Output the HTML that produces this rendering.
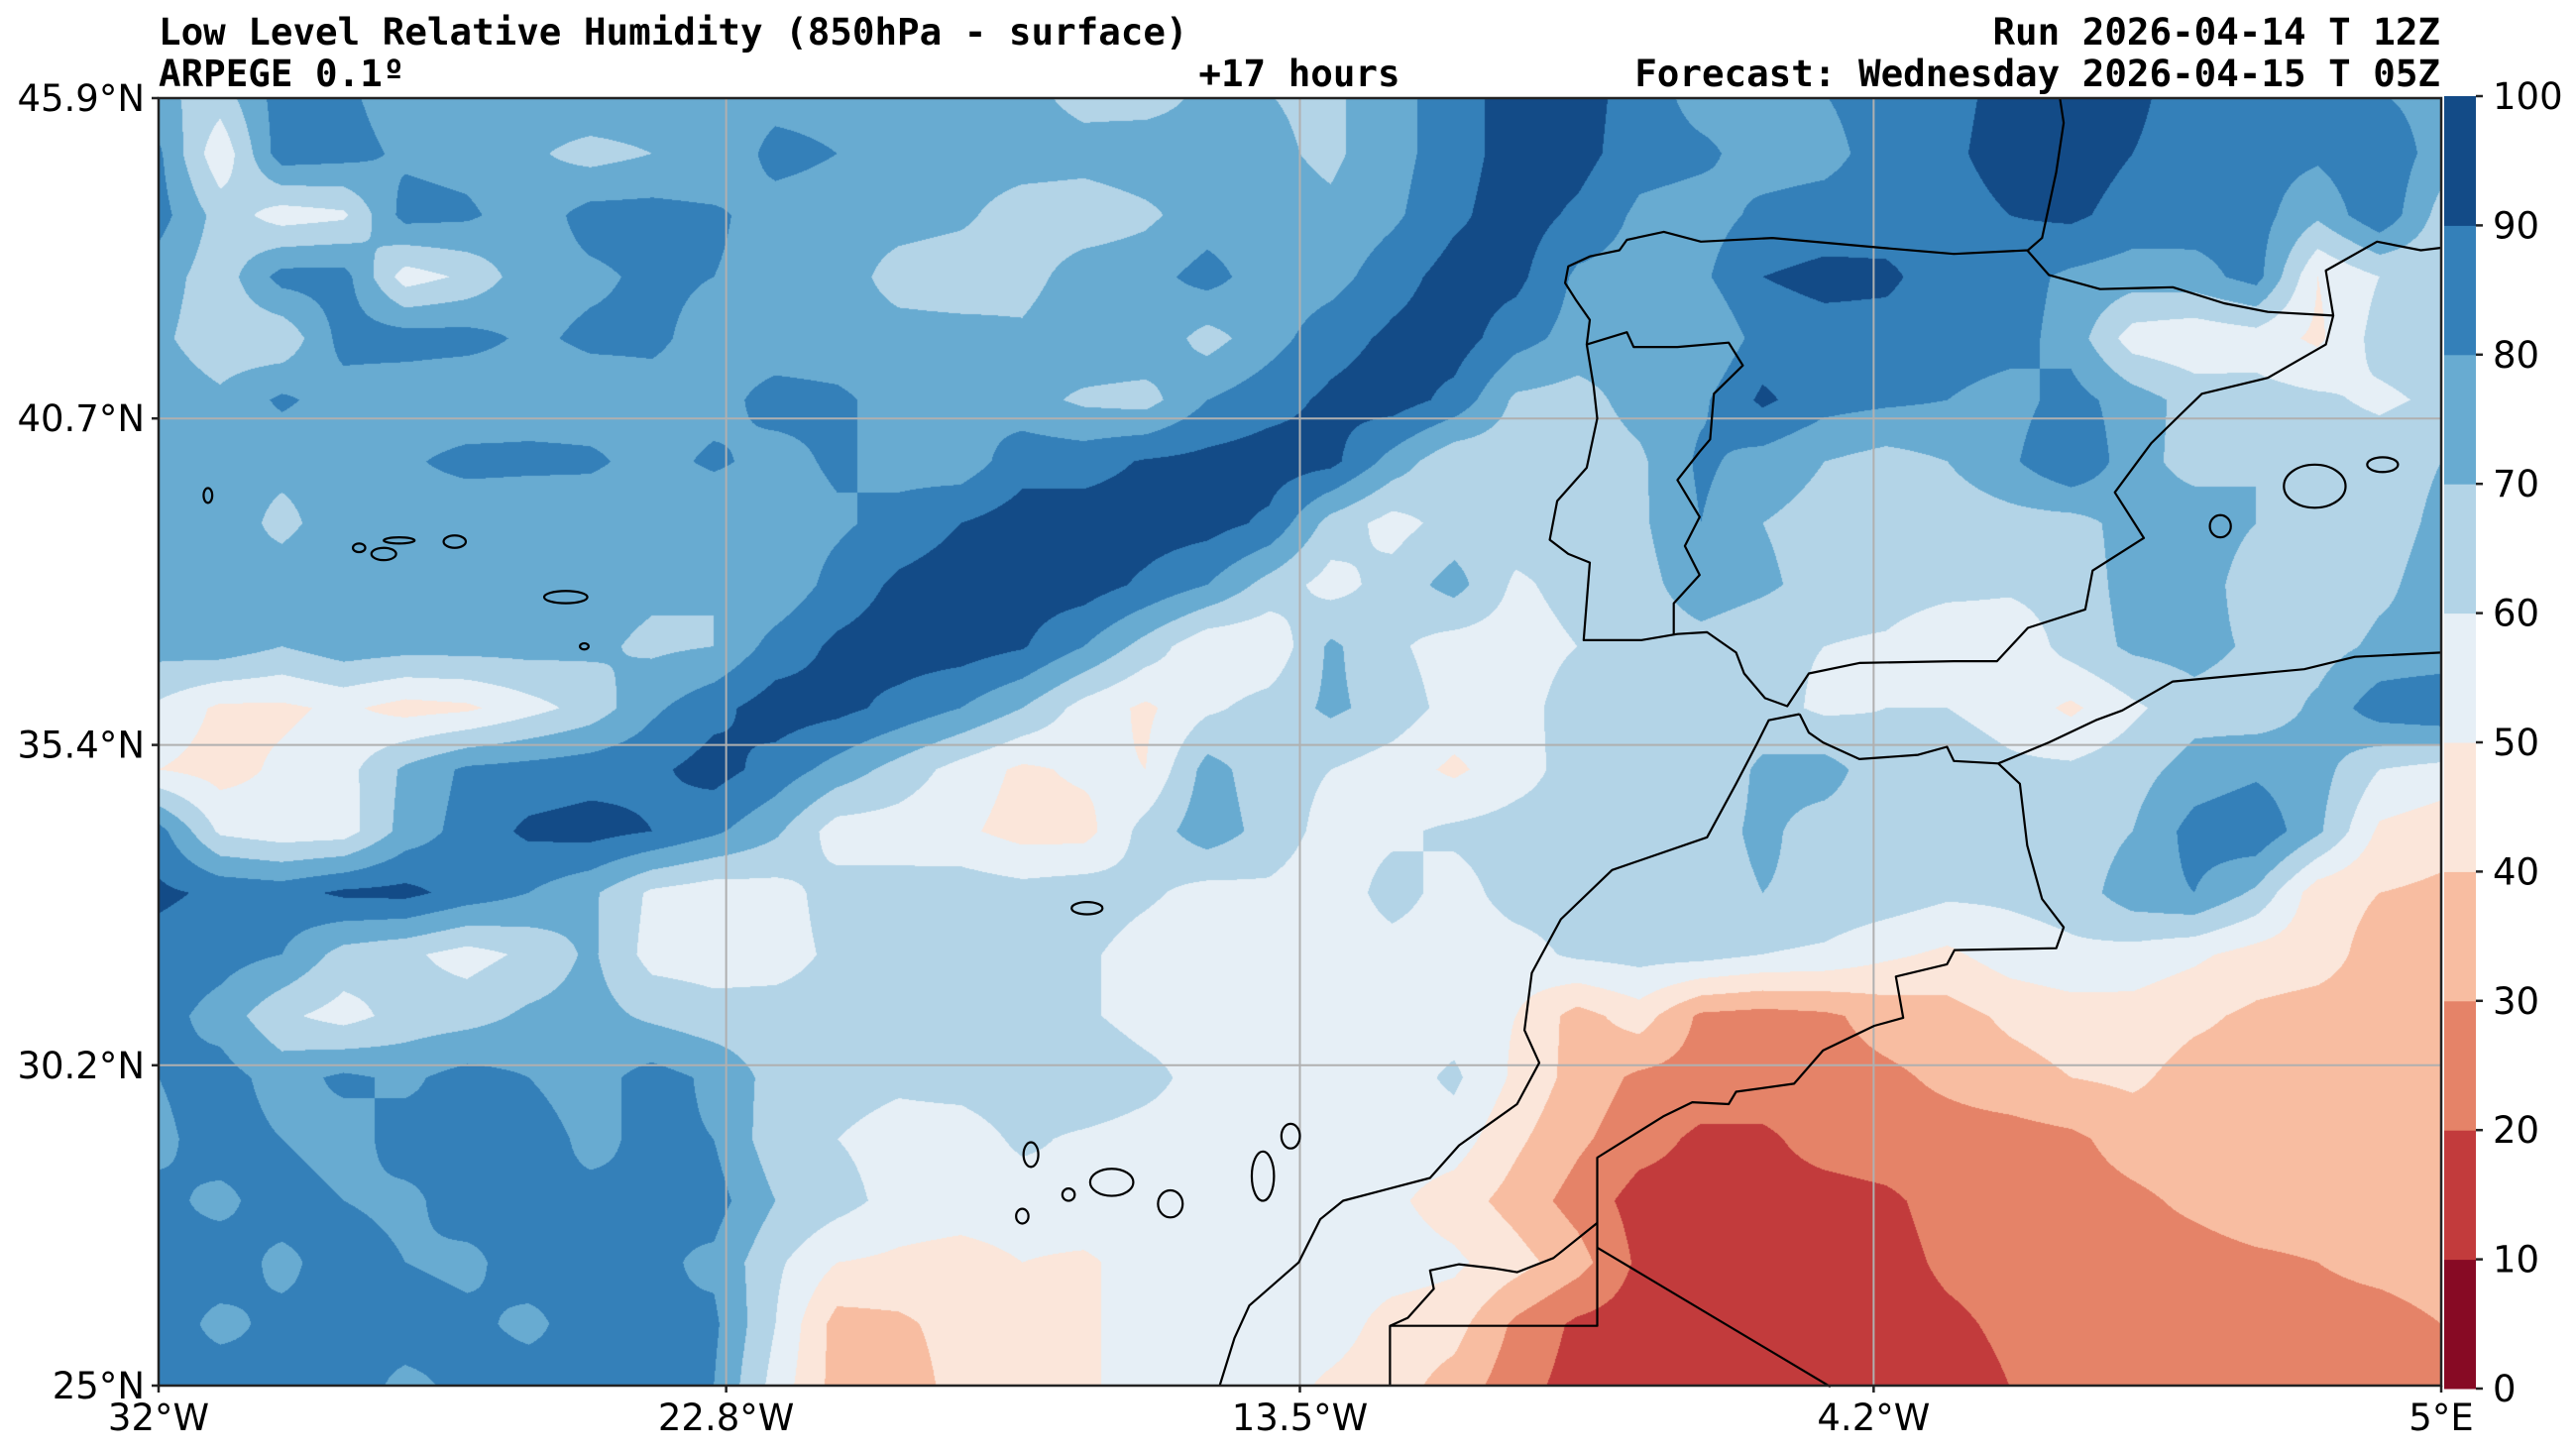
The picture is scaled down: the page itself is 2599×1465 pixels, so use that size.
<!DOCTYPE html>
<html><head><meta charset="utf-8"><title>Low Level Relative Humidity</title>
<style>
html,body{margin:0;padding:0;background:#fff;}
body{width:2599px;height:1465px;position:relative;overflow:hidden;font-family:"DejaVu Sans","Liberation Sans",sans-serif;}
#field{position:absolute;left:160px;top:99px;}
#overlay{position:absolute;left:0;top:0;}
.ttl{font-family:"DejaVu Sans Mono","Liberation Mono",monospace;font-weight:bold;font-size:37.5px;fill:#000;}
.tick{font-size:37px;fill:#000;}
</style></head>
<body>
<canvas id="field" width="2303" height="1299"></canvas>
<svg id="overlay" width="2599" height="1465" xmlns="http://www.w3.org/2000/svg">
  <text class="ttl" x="160" y="45">Low Level Relative Humidity (850hPa - surface)</text>
  <text class="ttl" x="160" y="87">ARPEGE 0.1º</text>
  <text class="ttl" x="1311" y="87" text-anchor="middle">+17 hours</text>
  <text class="ttl" x="2462" y="45" text-anchor="end">Run 2026-04-14 T 12Z</text>
  <text class="ttl" x="2462" y="87" text-anchor="end">Forecast: Wednesday 2026-04-15 T 05Z</text>
  <g id="grid"></g>
  <g id="coast"></g>
  <rect x="160" y="99" width="2303" height="1299" fill="none" stroke="#222" stroke-width="2.5"/>
  <g id="axes"></g>
  <g id="cbar"></g>
</svg>
<script>
// ---- data ----
const lonMin=-32, lonMax=5, latMin=25, latMax=45.9;
const gridLons=[-32,-31,-30,-29,-28,-27,-26,-25,-24,-23,-22,-21,-20,-19,-18,-17,-16,-15,-14,-13,-12,-11,-10,-9,-8,-7,-6,-5,-4,-3,-2,-1,0,1,2,3,4,5];
const gridLats=[46,45,44,43,42,41,40,39,38,37,36,35,34,33,32,31,30,29,28,27,26,25];
const rh46=[72,66,85,82,74,72,76,80,78,75,75,75,75,74,73,66,65,72,70,68,76,86,94,95,85,76,78,80,84,87,93,95,92,86,85,84,80,76];
const rh45=[82,52,86,84,78,76,72,66,70,70,84,80,74,75,75,74,76,74,72,68,76,86,94,94,84,82,76,77,84,88,94,95,90,86,84,82,88,75];
const rh44=[84,66,55,58,84,82,74,84,84,82,75,74,74,72,65,64,68,75,74,72,78,88,95,88,78,76,82,84,85,86,90,92,86,85,84,72,88,66];
const rh43=[75,64,84,84,55,62,76,78,82,80,76,75,66,64,66,75,76,84,74,76,86,94,93,78,76,78,90,93,92,85,84,78,75,76,84,50,60,62];
const rh42=[72,64,62,84,85,84,78,82,82,76,74,74,74,74,72,78,78,66,76,86,92,95,84,76,74,70,84,86,86,85,84,76,55,52,55,48,64,66];
const rh41=[76,72,82,75,72,70,74,74,76,76,84,82,76,80,74,68,66,80,86,92,95,87,68,66,74,78,92,84,82,80,76,84,75,66,64,62,58,62];
const rh40=[74,72,72,72,78,84,83,82,76,82,76,82,76,74,86,86,91,93,95,93,76,62,64,64,68,82,76,70,66,70,78,90,74,66,70,66,66,70];
const rh39=[74,74,68,74,74,70,70,72,72,70,74,78,84,90,95,95,95,94,88,66,56,64,66,64,68,80,70,66,68,64,66,66,74,76,70,66,66,72];
const rh38=[74,70,74,76,72,70,74,74,72,70,72,84,92,95,95,95,88,80,66,56,64,74,58,64,66,76,72,66,66,64,62,64,74,76,64,62,68,74];
const rh37=[74,76,70,76,74,74,74,72,68,70,84,92,95,95,91,80,66,52,52,72,62,55,55,60,64,66,62,60,58,50,52,64,72,74,68,66,72,72];
const rh36=[58,48,48,52,46,48,56,64,78,87,95,93,87,80,70,56,48,58,64,72,66,56,55,66,66,62,64,58,60,60,56,48,58,66,64,72,86,90];
const rh35=[50,46,52,56,72,82,84,86,88,94,86,76,66,56,48,52,50,74,64,60,55,48,56,64,64,62,72,74,64,66,62,62,66,74,78,74,60,56];
const rh34=[84,58,54,55,74,84,92,94,90,82,72,55,55,52,46,46,64,76,66,56,58,62,64,64,64,66,72,66,66,62,60,64,70,84,88,72,48,44];
const rh33=[92,88,86,92,93,86,80,72,58,54,56,64,64,66,64,66,62,56,58,54,64,56,64,64,64,66,70,68,66,62,62,64,76,80,68,44,40,38];
const rh32=[86,84,80,66,62,56,62,72,56,55,56,62,64,64,64,62,55,52,55,55,56,55,56,62,64,64,60,58,52,48,55,58,56,52,46,44,36,36];
const rh31=[84,76,62,56,64,66,72,74,68,64,64,64,64,66,64,62,55,54,54,55,55,55,50,36,45,28,26,28,34,36,42,45,46,42,38,36,36,36];
const rh30=[80,84,76,82,78,84,80,76,84,78,66,64,62,64,66,70,64,55,55,56,55,62,48,36,28,26,26,26,28,32,36,40,42,36,36,36,36,35];
const rh29=[78,84,80,76,84,80,84,78,82,80,64,60,56,55,62,58,55,55,55,56,55,55,42,32,24,18,18,24,26,26,26,28,34,36,36,36,36,36];
const rh28=[82,78,84,80,78,84,80,82,80,84,70,64,56,55,55,58,56,55,55,55,52,45,36,26,16,16,16,16,18,24,26,26,28,32,36,36,36,36];
const rh27=[80,84,78,84,80,78,84,80,82,78,62,50,48,46,50,48,55,55,55,55,55,52,44,34,18,15,15,15,16,22,24,26,26,26,28,30,33,35];
const rh26=[84,78,82,80,84,82,78,84,80,82,60,36,38,44,46,48,55,55,55,55,46,44,28,18,15,15,15,14,15,18,22,24,26,24,26,26,26,30];
const rh25=[80,84,80,84,78,82,84,80,82,80,56,36,34,44,46,48,55,55,55,48,44,36,24,16,15,15,15,15,15,15,20,24,26,24,22,24,26,26];
const rhRows=[rh46,rh45,rh44,rh43,rh42,rh41,rh40,rh39,rh38,rh37,rh36,rh35,rh34,rh33,rh32,rh31,rh30,rh29,rh28,rh27,rh26,rh25];
const levels=[0,10,20,30,40,50,60,70,80,90,100];
const levelColors=['#870a24','#c23b3c','#e58368','#f8bda1','#fbe6da','#e6eff6','#b3d4e7','#68abd1','#3480b9','#134b87'];
const lonTicks=[-32,-22.8,-13.5,-4.2,5];
const lonTickLabels=['32°W','22.8°W','13.5°W','4.2°W','5°E'];
const latTicks=[25,30.2,35.4,40.7,45.9];
const latTickLabels=['25°N','30.2°N','35.4°N','40.7°N','45.9°N'];

// ---- geography ----
const coastIberia=[[-1.18,45.9],[-1.12,45.5],[-1.24,44.7],[-1.47,43.63],[-1.7,43.43],[-2.9,43.37],[-4.07,43.47],[-5.84,43.63],[-7.0,43.57],[-7.6,43.73],[-8.2,43.6],[-8.32,43.43],[-8.8,43.33],[-9.15,43.17],[-9.2,42.9],[-9.03,42.63],[-8.8,42.3],[-8.85,41.9],[-8.74,41.23],[-8.68,40.7],[-8.85,39.9],[-9.33,39.36],[-9.45,38.73],[-9.15,38.5],[-8.8,38.36],[-8.9,37.1],[-7.97,37.1],[-7.38,37.2],[-6.9,37.23],[-6.43,36.9],[-6.3,36.56],[-5.96,36.16],[-5.6,36.03],[-5.25,36.56],[-4.43,36.73],[-2.9,36.76],[-2.2,36.76],[-1.7,37.3],[-0.77,37.6],[-0.65,38.23],[0.18,38.76],[-0.29,39.5],[0.3,40.3],[0.77,40.76],[1.12,41.1],[2.19,41.36],[3.13,41.9],[3.25,42.37],[3.13,43.1],[3.96,43.57],[4.67,43.43],[5,43.47]];
const borderPyrenees=[[-1.71,43.43],[-1.36,43.03],[-0.53,42.8],[0.65,42.83],[1.48,42.57],[2.19,42.43],[3.25,42.37]];
const borderPortugal=[[-8.85,41.9],[-8.2,42.1],[-8.09,41.86],[-7.38,41.86],[-6.55,41.93],[-6.32,41.56],[-6.79,41.1],[-6.85,40.36],[-7.02,40.16],[-7.38,39.7],[-7.02,39.1],[-7.26,38.63],[-7.02,38.16],[-7.44,37.7],[-7.44,37.2]];
const coastAfricaAtl=[[-5.4,35.9],[-5.9,35.8],[-6.08,35.44],[-6.43,34.77],[-6.9,33.9],[-8.44,33.37],[-9.27,32.57],[-9.74,31.7],[-9.86,30.77],[-9.62,30.24],[-9.98,29.57],[-10.92,28.9],[-11.39,28.37],[-12.8,28.0],[-13.17,27.7],[-13.52,27.0],[-14.32,26.3],[-14.56,25.77],[-14.8,25.0]];
const coastAfricaMed=[[-5.4,35.9],[-5.25,35.6],[-5.02,35.44],[-4.43,35.17],[-3.48,35.24],[-3.01,35.37],[-2.9,35.14],[-2.18,35.1],[-1.36,35.44],[-0.6,35.8],[-0.17,35.96],[0.65,36.43],[2.78,36.63],[3.6,36.83],[5,36.9]];
const borderMorAlg=[[-2.18,35.1],[-1.83,34.77],[-1.71,33.77],[-1.47,32.9],[-1.12,32.44],[-1.24,32.1],[-2.89,32.07],[-3.01,31.84],[-3.84,31.64],[-3.72,30.97],[-4.19,30.84],[-5.02,30.44],[-5.49,29.9],[-6.43,29.77],[-6.55,29.57],[-7.14,29.6],[-7.61,29.37],[-8.68,28.7],[-8.68,25.97],[-12.04,25.97],[-12.04,25.0]];
const borderDiag=[[-8.68,27.24],[-4.9,24.98]];
const borderMorWS=[[-8.68,27.64],[-9.39,27.07],[-9.98,26.84],[-10.33,26.9],[-10.92,26.97],[-11.39,26.87],[-11.33,26.57],[-11.75,26.1],[-12.04,25.97]];
const islands=[[-17.86,28.75,0.12,0.2],[-16.55,28.3,0.35,0.22],[-17.25,28.1,0.1,0.1],[-18.0,27.75,0.1,0.12],[-15.6,27.95,0.2,0.22],[-14.1,28.4,0.18,0.4],[-13.65,29.05,0.15,0.2],[-16.95,32.75,0.25,0.1],[-31.2,39.45,0.07,0.12],[-28.75,38.6,0.1,0.07],[-28.35,38.5,0.2,0.1],[-28.1,38.72,0.25,0.05],[-27.2,38.7,0.18,0.1],[-25.4,37.8,0.35,0.1],[-25.1,37.0,0.07,0.05],[2.95,39.6,0.5,0.35],[4.05,39.95,0.25,0.12],[1.42,38.95,0.17,0.18]];

// ---- axes functions ----
const PX=160, PY=99, PW=2303, PH=1299;
function xOf(lon){return PX+(lon-lonMin)/(lonMax-lonMin)*PW;}
function yOf(lat){return PY+(latMax-lat)/(latMax-latMin)*PH;}
const NS='http://www.w3.org/2000/svg';

// ---- field ----
(function(){
  const cv=document.getElementById('field'); const ctx=cv.getContext('2d');
  const img=ctx.createImageData(PW,PH); const d=img.data;
  const rgb=levelColors.map(c=>[parseInt(c.substr(1,2),16),parseInt(c.substr(3,2),16),parseInt(c.substr(5,2),16)]);
  const nC=gridLons.length, nR=gridLats.length;
  for(let j=0;j<PH;j++){
    const lat=latMax-(j+0.5)/PH*(latMax-latMin);
    let fr=(gridLats[0]-lat)/(gridLats[0]-gridLats[1]); let r0=Math.floor(fr); if(r0>nR-2)r0=nR-2; if(r0<0)r0=0; const tr=fr-r0;
    const A=rhRows[r0], B=rhRows[r0+1];
    for(let i=0;i<PW;i++){
      const lon=lonMin+(i+0.5)/PW*(lonMax-lonMin);
      let fc=(lon-gridLons[0])/(gridLons[1]-gridLons[0]); let c0=Math.floor(fc); if(c0>nC-2)c0=nC-2; if(c0<0)c0=0; const tc=fc-c0;
      const v=(A[c0]*(1-tc)+A[c0+1]*tc)*(1-tr)+(B[c0]*(1-tc)+B[c0+1]*tc)*tr;
      let k=0; while(k<levelColors.length-1 && v>=levels[k+1]) k++;
      const p=(j*PW+i)*4; const c=rgb[k];
      d[p]=c[0]; d[p+1]=c[1]; d[p+2]=c[2]; d[p+3]=255;
    }
  }
  ctx.putImageData(img,0,0);
})();

// ---- gridlines ----
(function(){
  const g=document.getElementById('grid');
  lonTicks.slice(1,-1).forEach(lon=>{
    const l=document.createElementNS(NS,'line');
    l.setAttribute('x1',xOf(lon)); l.setAttribute('x2',xOf(lon)); l.setAttribute('y1',PY); l.setAttribute('y2',PY+PH);
    l.setAttribute('stroke','#b0b0b0'); l.setAttribute('stroke-width','2');
    
    
    g.appendChild(l);
  });
  latTicks.slice(1,-1).forEach(lat=>{
    const l=document.createElementNS(NS,'line');
    l.setAttribute('x1',PX); l.setAttribute('x2',PX+PW); l.setAttribute('y1',yOf(lat)); l.setAttribute('y2',yOf(lat));
    l.setAttribute('stroke','#b0b0b0'); l.setAttribute('stroke-width','2');
    
    
    g.appendChild(l);
  });
})();

// ---- coastlines ----
(function(){
  const g=document.getElementById('coast');
  function line(pts,name){
    const p=document.createElementNS(NS,'polyline');
    p.setAttribute('points',pts.map(q=>xOf(q[0]).toFixed(1)+','+yOf(q[1]).toFixed(1)).join(' '));
    p.setAttribute('fill','none'); p.setAttribute('stroke','#000'); p.setAttribute('stroke-width','2.2'); p.setAttribute('stroke-linejoin','round');
    
    
    g.appendChild(p);
  }
  line(coastIberia,'iberia-coastline');
  line(borderPyrenees,'pyrenees-border');
  line(borderPortugal,'portugal-border');
  line(coastAfricaAtl,'africa-atlantic-coastline');
  line(coastAfricaMed,'africa-mediterranean-coastline');
  line(borderMorAlg,'morocco-algeria-border');
  line(borderDiag,'sahara-border');
  line(borderMorWS,'western-sahara-border');
  islands.forEach(s=>{
    const e=document.createElementNS(NS,'ellipse');
    e.setAttribute('cx',xOf(s[0])); e.setAttribute('cy',yOf(s[1]));
    e.setAttribute('rx',s[2]*PW/(lonMax-lonMin)); e.setAttribute('ry',s[3]*PH/(latMax-latMin));
    e.setAttribute('fill','none'); e.setAttribute('stroke','#000'); e.setAttribute('stroke-width','2.2');
    
    
    g.appendChild(e);
  });
})();

// ---- axes ticks/labels ----
(function(){
  const g=document.getElementById('axes');
  lonTicks.forEach((lon,i)=>{
    const x=xOf(lon);
    const t=document.createElementNS(NS,'line');
    t.setAttribute('x1',x); t.setAttribute('x2',x); t.setAttribute('y1',PY+PH); t.setAttribute('y2',PY+PH+7);
    t.setAttribute('stroke','#222'); t.setAttribute('stroke-width','2.5');
    
    
    g.appendChild(t);
    const s=document.createElementNS(NS,'text');
    s.setAttribute('x',x); s.setAttribute('y',1443); s.setAttribute('text-anchor','middle'); s.setAttribute('class','tick');
    s.textContent=lonTickLabels[i];
    
    
    g.appendChild(s);
  });
  latTicks.forEach((lat,i)=>{
    const y=yOf(lat);
    const t=document.createElementNS(NS,'line');
    t.setAttribute('x1',PX-7); t.setAttribute('x2',PX); t.setAttribute('y1',y); t.setAttribute('y2',y);
    t.setAttribute('stroke','#222'); t.setAttribute('stroke-width','2.5');
    
    
    g.appendChild(t);
    const s=document.createElementNS(NS,'text');
    s.setAttribute('x',PX-14); s.setAttribute('y',y+13); s.setAttribute('text-anchor','end'); s.setAttribute('class','tick');
    s.textContent=latTickLabels[i];
    
    
    g.appendChild(s);
  });
})();

// ---- colorbar ----
(function(){
  const g=document.getElementById('cbar');
  const CX=2466, CW=32, CT=97, CB=1401;
  function cy(v){return CB-(v-levels[0])/(levels[levels.length-1]-levels[0])*(CB-CT);}
  for(let k=0;k<levelColors.length;k++){
    const r=document.createElementNS(NS,'rect');
    const y1=cy(levels[k+1]), y0=cy(levels[k]);
    r.setAttribute('x',CX); r.setAttribute('y',y1); r.setAttribute('width',CW); r.setAttribute('height',y0-y1+0.5);
    r.setAttribute('fill',levelColors[k]);
    
    
    g.appendChild(r);
  }
  levels.forEach(v=>{
    const y=cy(v);
    const t=document.createElementNS(NS,'line');
    t.setAttribute('x1',CX+CW); t.setAttribute('x2',CX+CW+7); t.setAttribute('y1',y); t.setAttribute('y2',y);
    t.setAttribute('stroke','#222'); t.setAttribute('stroke-width','2.5');
    
    
    g.appendChild(t);
    const s=document.createElementNS(NS,'text');
    s.setAttribute('x',CX+CW+17); s.setAttribute('y',y+13); s.setAttribute('class','tick');
    s.textContent=String(v);
    
    
    g.appendChild(s);
  });
})();
</script>
</body></html>
